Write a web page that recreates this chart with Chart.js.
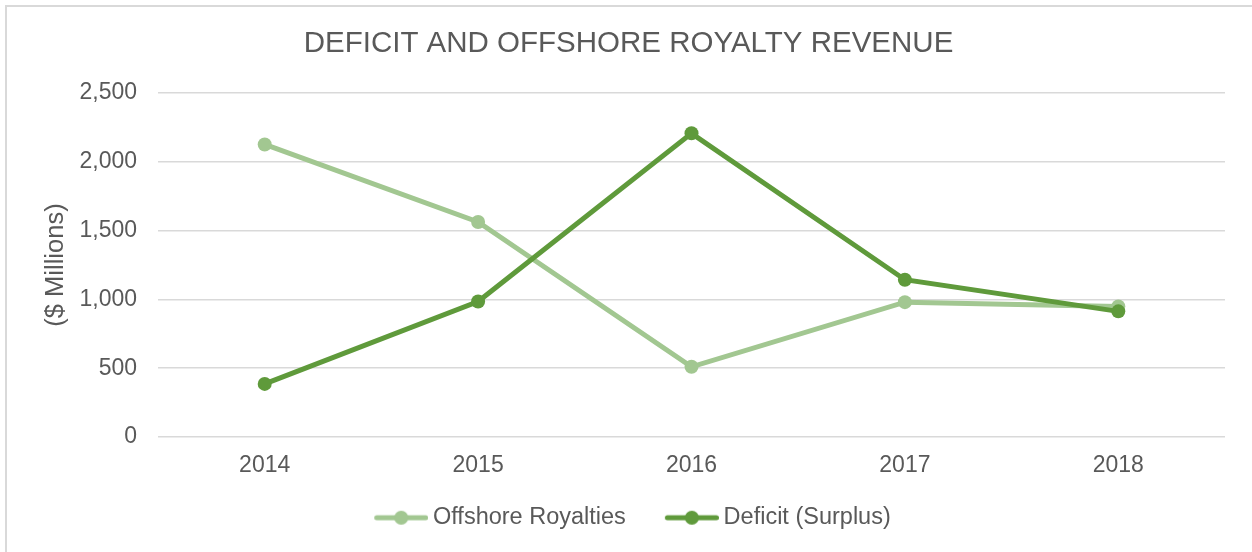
<!DOCTYPE html>
<html>
<head>
<meta charset="utf-8">
<script src="https://cdn.jsdelivr.net/npm/chart.js@4/dist/chart.umd.min.js"></script>
<style>
  html, body { margin: 0; padding: 0; background: #ffffff; overflow: hidden; }
  #frame { position: absolute; left: 5px; top: 5px; width: 1400px; height: 700px;
           border-left: 2px solid #d9d9d9; border-top: 2px solid #d9d9d9; box-sizing: border-box; }
  #wrap { position: absolute; left: 0; top: 0; width: 1252px; height: 552px; }
</style>
</head>
<body>
<div id="frame"></div>
<div id="wrap"><canvas id="c" width="1252" height="552"></canvas></div>
<script>
const categories = ['2014', '2015', '2016', '2017', '2018'];
const offshoreRoyalties = [2126, 1563, 510, 980, 949];
const deficitSurplus = [386, 985, 2207, 1143, 913];
const seriesNames = ['Offshore Royalties', 'Deficit (Surplus)'];
const yTicks = [0, 500, 1000, 1500, 2000, 2500];

const LIGHT = '#a2c791';
const DARK = '#5f9a3b';
const TEXT = '#595959';
const GRID = '#d9d9d9';
const FONT = "'Liberation Sans', Arial, sans-serif";

function legendMarker(color) {
  const c = document.createElement('canvas');
  c.width = 69; c.height = 16;
  const g = c.getContext('2d');
  g.strokeStyle = color; g.lineWidth = 5; g.lineCap = 'round';
  g.beginPath(); g.moveTo(17.5, 8); g.lineTo(66.5, 8); g.stroke();
  g.fillStyle = color;
  g.beginPath(); g.arc(42, 8, 7, 0, Math.PI * 2); g.fill();
  return c;
}
const markers = [legendMarker(LIGHT), legendMarker(DARK)];

new Chart(document.getElementById('c'), {
  type: 'line',
  data: {
    labels: categories,
    datasets: [
      { label: seriesNames[0], data: offshoreRoyalties, borderColor: LIGHT, backgroundColor: LIGHT,
        borderWidth: 5, pointRadius: 7, pointHoverRadius: 7, pointBorderWidth: 0, order: 1, tension: 0 },
      { label: seriesNames[1], data: deficitSurplus, borderColor: DARK, backgroundColor: DARK,
        borderWidth: 5, pointRadius: 7, pointHoverRadius: 7, pointBorderWidth: 0, order: 0, tension: 0 }
    ]
  },
  options: {
    responsive: false,
    animation: false,
    devicePixelRatio: 1,
    layout: { padding: { left: 32, right: 27, top: 0, bottom: 17 } },
    plugins: {
      tooltip: { enabled: false },
      title: {
        display: true,
        text: 'DEFICIT AND OFFSHORE ROYALTY REVENUE',
        color: TEXT,
        font: { family: FONT, size: 29.5, weight: 'normal' },
        padding: { top: 26, bottom: 31.6 }
      },
      legend: {
        position: 'bottom',
        maxHeight: 60,
        labels: {
          color: TEXT,
          font: { family: FONT, size: 23.5 },
          usePointStyle: true,
          pointStyleWidth: 55,
          padding: 31,
          sort: (a, b) => a.datasetIndex - b.datasetIndex,
          generateLabels: (chart) => {
            const items = Chart.defaults.plugins.legend.labels.generateLabels(chart);
            items.forEach(it => { it.pointStyle = markers[it.datasetIndex]; });
            return items;
          }
        }
      }
    },
    scales: {
      x: {
        offset: true,
        grid: { display: false, drawTicks: false },
        border: { display: false },
        ticks: { color: TEXT, font: { family: FONT, size: 23 }, padding: 15 },
        afterFit: (s) => { s.height = 38; }
      },
      y: {
        min: 0, max: 2500,
        afterBuildTicks: (s) => { s.ticks = yTicks.map(v => ({ value: v })); },
        grid: { color: GRID, lineWidth: 1.5, drawTicks: false },
        border: { display: false },
        ticks: {
          color: TEXT, font: { family: FONT, size: 23 }, padding: 21,
          callback: (v) => Number(v).toLocaleString('en-US')
        },
        title: {
          display: true, text: '($ Millions)', color: TEXT,
          font: { family: FONT, size: 25.5 }, padding: { top: 9, bottom: 0 }
        },
        afterFit: (s) => { s.width = 126; }
      }
    }
  }
});
</script>
</body>
</html>
